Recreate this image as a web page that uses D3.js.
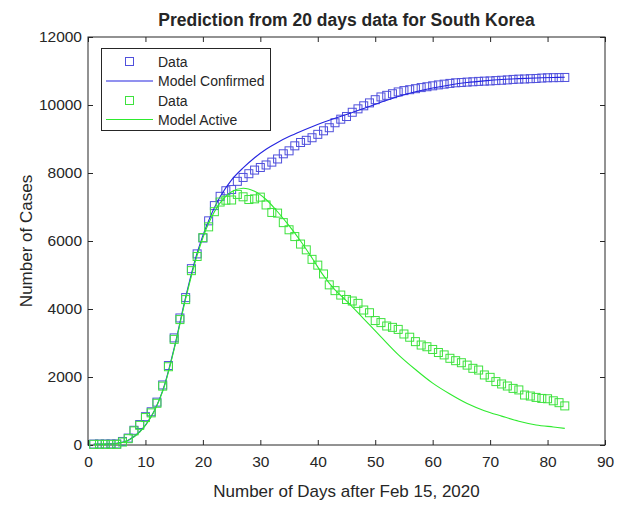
<!DOCTYPE html>
<html>
<head>
<meta charset="utf-8">
<script src="https://cdn.jsdelivr.net/npm/d3@7"></script>
<style>
  body { margin: 0; background: #fff; }
  text { font-family: "Liberation Sans", Arial, sans-serif; fill: #262626; }
</style>
</head>
<body>
<div id="chart"></div>
<script>
// Days 1..83 after Feb 15, 2020
const days = d3.range(1, 84);

// Cumulative confirmed cases (blue squares)
const confirmedData = [
  28, 29, 30, 31, 31, 104, 204, 433, 602, 833, 977, 1261, 1766, 2337, 3150,
  3736, 4335, 5186, 5621, 6088, 6593, 7041, 7314, 7478, 7513, 7755, 7869, 7979,
  8086, 8162, 8236, 8320, 8413, 8565, 8652, 8799, 8897, 8961, 9037, 9137, 9241,
  9332, 9478, 9583, 9661, 9786, 9887, 9976, 10062, 10156, 10237, 10284, 10331,
  10384, 10423, 10450, 10480, 10512, 10537, 10564, 10591, 10613, 10635, 10653,
  10661, 10674, 10683, 10694, 10702, 10708, 10718, 10728, 10738, 10752, 10761,
  10765, 10774, 10780, 10793, 10801, 10804, 10806, 10810
];

// Active cases (green squares)
const activeData = [
  19, 20, 20, 19, 19, 87, 186, 415, 578, 807, 945, 1227, 1731, 2302, 3107,
  3689, 4277, 5128, 5545, 6100, 6416, 6862, 7146, 7200, 7206, 7370, 7300, 7220,
  7240, 7290, 7060, 6840, 6820, 6540, 6330, 6130, 5910, 5740, 5460, 5290, 5030,
  4710, 4540, 4410, 4280, 4235, 4165, 3970, 3890, 3660, 3600, 3500, 3460, 3400,
  3265, 3170, 3040, 2940, 2890, 2810, 2720, 2650, 2550, 2480, 2420, 2350, 2255,
  2205, 2060, 1990, 1865, 1795, 1735, 1665, 1620, 1470, 1440, 1400, 1370, 1360,
  1300, 1245, 1150
];

// Model curves, sampled at these days
const modelDays = [1, 3, 5, 7, 9, 11, 13, 15, 17, 19, 21, 23, 25, 27, 29, 31, 33,
  35, 37, 39, 41, 43, 45, 48, 51, 54, 57, 60, 63, 66, 69, 72, 75, 78, 81, 83];
const modelConfirmed = [25, 30, 50, 140, 390, 840, 1600, 2850, 4350, 5650, 6600,
  7300, 7800, 8150, 8450, 8700, 8900, 9070, 9220, 9360, 9490, 9610, 9720, 9900,
  10080, 10250, 10390, 10500, 10590, 10660, 10710, 10750, 10775, 10795, 10810, 10815];
const modelActive = [20, 25, 45, 135, 380, 830, 1580, 2820, 4300, 5580, 6520,
  7120, 7450, 7550, 7460, 7220, 6860, 6450, 6000, 5500, 4980, 4560, 4240, 3710,
  3180, 2660, 2220, 1820, 1500, 1220, 1010, 850, 700, 590, 530, 490];

const xTicks = d3.range(0, 91, 10);
const yTicks = d3.range(0, 12001, 2000);

const legendLabels = ["Data", "Model Confirmed", "Data", "Model Active"];

const width = 622, height = 508;
const margin = { left: 88, right: 17, top: 37, bottom: 63 };

const svg = d3.select("#chart").append("svg")
  .attr("width", width)
  .attr("height", height);

const x = d3.scaleLinear().domain([0, 90]).range([margin.left, width - margin.right]);
const y = d3.scaleLinear().domain([0, 12000]).range([height - margin.bottom, margin.top]);

const blueMark = "#5050dc", blueLine = "#2424e0";
const greenMark = "#3ee23e", greenLine = "#2eea2e";

// Axes with inward ticks (MATLAB style)
const axisColor = "#262626";
function styleAxis(g) {
  g.select(".domain").remove();
  g.selectAll("line").attr("stroke", axisColor);
  g.selectAll("text").style("font-size", "15.5px").attr("fill", axisColor);
}

svg.append("g")
  .attr("transform", `translate(0,${y(0)})`)
  .call(d3.axisBottom(x).tickValues(xTicks).tickSizeInner(-5).tickSizeOuter(0).tickPadding(11))
  .call(styleAxis);
svg.append("g")
  .attr("transform", `translate(0,${y(12000)})`)
  .call(d3.axisTop(x).tickValues(xTicks).tickSizeInner(-5).tickSizeOuter(0).tickFormat(""))
  .call(styleAxis);
svg.append("g")
  .attr("transform", `translate(${x(0)},0)`)
  .call(d3.axisLeft(y).tickValues(yTicks).tickFormat(d3.format("d"))
    .tickSizeInner(-5).tickSizeOuter(0).tickPadding(6))
  .call(styleAxis);
svg.append("g")
  .attr("transform", `translate(${x(90)},0)`)
  .call(d3.axisRight(y).tickValues(yTicks).tickSizeInner(-5).tickSizeOuter(0).tickFormat(""))
  .call(styleAxis);

// Plot box
svg.append("rect")
  .attr("x", x(0)).attr("y", y(12000))
  .attr("width", x(90) - x(0)).attr("height", y(0) - y(12000))
  .attr("fill", "none").attr("stroke", axisColor).attr("stroke-width", 1);

const plot = svg.append("g");
const sq = 8;

function drawSquares(values, color) {
  plot.append("g").selectAll("rect")
    .data(values)
    .enter()
    .append("rect")
    .attr("x", (d, i) => x(days[i]) - sq / 2)
    .attr("y", d => y(d) - sq / 2)
    .attr("width", sq).attr("height", sq)
    .attr("fill", "none")
    .attr("stroke", color).attr("stroke-width", 1);
}

function drawModel(values, color) {
  const line = d3.line()
    .x((d, i) => x(modelDays[i]))
    .y(d => y(d))
    .curve(d3.curveCatmullRom);
  plot.append("path")
    .attr("d", line(values))
    .attr("fill", "none")
    .attr("stroke", color).attr("stroke-width", 1.1);
}

drawSquares(confirmedData, blueMark);
drawModel(modelConfirmed, blueLine);
drawSquares(activeData, greenMark);
drawModel(modelActive, greenLine);

// Title and axis labels
svg.append("text")
  .attr("x", (x(0) + x(90)) / 2).attr("y", 26)
  .attr("text-anchor", "middle")
  .style("font-size", "17.5px").style("font-weight", "bold")
  .attr("fill", "#000")
  .text("Prediction from 20 days data for South Korea");

svg.append("text")
  .attr("x", (x(0) + x(90)) / 2).attr("y", 497)
  .attr("text-anchor", "middle")
  .style("font-size", "17px")
  .text("Number of Days after Feb 15, 2020");

svg.append("text")
  .attr("transform", `translate(32,${(y(0) + y(12000)) / 2}) rotate(-90)`)
  .attr("text-anchor", "middle")
  .style("font-size", "17px")
  .text("Number of Cases");

// Legend
const legend = svg.append("g");
legend.append("rect")
  .attr("x", 101.5).attr("y", 48.5)
  .attr("width", 169).attr("height", 82)
  .attr("fill", "#fff").attr("stroke", axisColor).attr("stroke-width", 1);

const legendRows = [61.5, 81, 100.5, 119.5];
const legendKinds = [
  { type: "mark", color: blueMark },
  { type: "line", color: blueLine },
  { type: "mark", color: greenMark },
  { type: "line", color: greenLine }
];
legendLabels.forEach((label, i) => {
  const k = legendKinds[i];
  if (k.type === "mark") {
    legend.append("rect")
      .attr("x", 129.5 - sq / 2).attr("y", legendRows[i] - sq / 2)
      .attr("width", sq).attr("height", sq)
      .attr("fill", "none").attr("stroke", k.color);
  } else {
    legend.append("line")
      .attr("x1", 106).attr("x2", 153)
      .attr("y1", legendRows[i]).attr("y2", legendRows[i])
      .attr("stroke", k.color).attr("stroke-width", 1.1);
  }
  legend.append("text")
    .attr("x", 158).attr("y", legendRows[i] + 5)
    .style("font-size", "14px")
    .attr("fill", "#000")
    .text(label);
});
</script>
</body>
</html>
